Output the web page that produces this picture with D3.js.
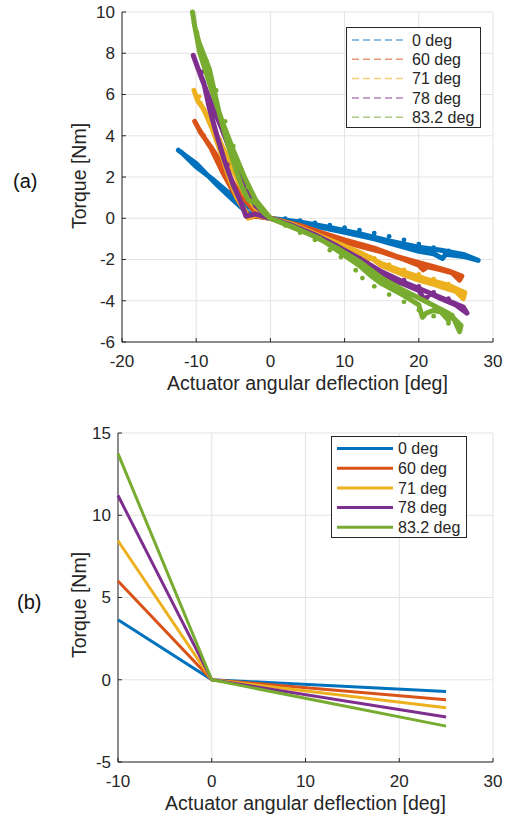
<!DOCTYPE html>
<html>
<head>
<meta charset="utf-8">
<script src="https://cdn.jsdelivr.net/npm/d3@7"></script>
<style>
  body { margin: 0; background: #fff; }
  svg { display: block; font-family: "Liberation Sans", Arial, sans-serif; }
</style>
</head>
<body>
<div id="viz"></div>
<script>
// series names + colors (MATLAB default order)
const seriesNames = ["0 deg", "60 deg", "71 deg", "78 deg", "83.2 deg"];
const colors = ["#0072BD", "#D95319", "#EDB120", "#7E2F8E", "#77AC30"];

const loop0 = [[-12.4,3.3],[-11.3,3.0],[-10,2.65],[-8.5,2.1],[-7,1.55],[-5.5,1.05],[-4,0.55],[-3,0.25],[-1.5,0.08],[0,0],[3,-0.15],[6,-0.38],[10,-0.68],[14,-1.0],[17,-1.3],[20,-1.6],[22,-1.72],[23.2,-1.95],[23.6,-1.75],[26,-1.85],[28,-2.04],[26,-1.75],[23,-1.55],[20,-1.4],[16,-1.1],[12,-0.75],[8,-0.45],[4,-0.18],[0,0],[-2,0.35],[-4,0.8],[-6,1.35],[-8,1.95],[-10,2.5],[-12,3.2]];
const loop60 = [[-10.2,4.7],[-9.6,4.3],[-8,3.4],[-6.4,2.2],[-5,1.3],[-4.2,0.8],[-3.4,0.35],[-2.8,0.05],[-2,0.1],[0,0],[4,-0.35],[7,-0.72],[10,-1.15],[13,-1.45],[15,-1.63],[18,-2.0],[20,-2.28],[20.6,-2.5],[21.2,-2.35],[23,-2.5],[24.5,-2.65],[25.5,-3.0],[25.8,-2.8],[24,-2.55],[22,-2.35],[20,-2.15],[17,-1.85],[14,-1.45],[10,-1.05],[6,-0.6],[3,-0.28],[0,0],[-2,0.3],[-3.5,0.9],[-5,1.7],[-6.5,2.6],[-8,3.45],[-9.5,4.2]];
const loop71 = [[-10.3,6.2],[-9.8,5.7],[-9,5.3],[-7.8,4.3],[-6.5,3.0],[-5.5,1.9],[-4.5,1.0],[-3.5,0.4],[-3,0.0],[-2,0.15],[0,0],[4,-0.45],[7,-0.95],[10,-1.46],[12,-1.8],[13,-2.04],[13.5,-1.9],[15,-2.3],[18,-2.75],[20,-3.0],[22,-3.2],[23,-3.33],[25,-3.55],[26,-3.9],[26.2,-3.6],[24,-3.25],[21,-2.95],[18,-2.6],[15,-2.2],[12,-1.65],[9,-1.2],[6,-0.75],[3,-0.3],[0,0],[-2,0.5],[-3.5,1.2],[-5,2.3],[-6.5,3.5],[-8,4.6],[-9.5,5.6]];
const loop78 = [[-10.4,7.9],[-9.8,7.3],[-9,6.6],[-8.2,5.3],[-7.2,4.0],[-6.2,2.8],[-5,1.6],[-4,0.8],[-3.3,0.1],[-2,0.2],[0,0],[4,-0.5],[7,-1.05],[10,-1.6],[12,-2.1],[13,-2.52],[13.6,-2.35],[15,-2.8],[18,-3.2],[20,-3.5],[20.8,-3.98],[21.5,-3.65],[23,-3.9],[25,-4.2],[26.5,-4.6],[26,-4.3],[24,-4.0],[21,-3.55],[18,-3.1],[15,-2.6],[12,-1.95],[9,-1.35],[6,-0.8],[3,-0.35],[0,0],[-2,0.6],[-3.5,1.6],[-5,2.9],[-6.5,4.3],[-8,5.6],[-9.5,7.0]];
const loop83 = [[-10.5,10],[-10.2,9.3],[-9.6,8.5],[-8.2,7.2],[-6.9,5.1],[-5.5,3.3],[-4.5,2.2],[-3.8,1.5],[-3,0.9],[-1.9,0.72],[-1,0.3],[0,0],[3,-0.45],[6.6,-0.97],[10,-1.8],[12,-2.3],[13.5,-2.77],[15,-3.17],[18,-3.75],[20,-4.2],[20.5,-4.8],[21,-4.6],[22,-4.47],[23,-4.55],[24,-4.95],[24.5,-4.7],[25.5,-5.5],[25.7,-5.2],[24,-4.6],[21,-4.05],[18,-3.5],[15,-2.9],[12,-2.1],[9,-1.45],[6,-0.9],[3,-0.4],[0,0],[-2,0.9],[-3.5,2.0],[-5,3.3],[-6.5,4.7],[-8,6.3],[-9.5,8.0],[-10.3,9.5]];

// (a) dotted traces next to the loops
const dots0 = [[2,-0.02],[4,-0.12],[6,-0.22],[8,-0.33],[10,-0.45],[12,-0.58],[14,-0.72],[16,-0.88],[18,-1.05],[20,-1.25],[22,-1.42],[24,-1.58],[26,-1.78]];
const dots60 = [[-9,4.0],[-7.5,3.1],[-6,2.1],[-4.5,1.1]];
const dots71 = [[-9.6,5.9],[-8.5,5.0],[-6.8,3.8],[-5.8,2.6],[12,-1.65],[14,-1.95],[16,-2.25],[18,-2.5],[20,-2.72],[22,-2.95],[24,-3.2]];
const dots78 = [[-9.2,7.1],[-7.6,5.0],[-5.8,2.6],[12,-1.95],[14,-2.4],[16,-2.8],[18,-3.0],[20,-3.3],[22,-3.6],[24,-3.9]];
const dots83 = [[-9.9,9.0],[-8.6,7.6],[-7.3,6.2],[-6.1,4.7],[-5.0,3.5],[-4.0,2.4],[-3.0,1.5],[2,-0.35],[4,-0.7],[6,-1.05],[8,-1.55],[9.5,-1.88],[11.5,-2.52],[12.4,-2.9],[14,-3.3],[16,-3.7],[18,-4.05],[20,-4.45],[22,-4.75],[24,-5.1]];

const loops = [loop0, loop60, loop71, loop78, loop83];
const dotSets = [dots0, dots60, dots71, dots78, dots83];

// (b) piecewise-linear fits
const fitX = [-10, 0, 25];
const fit0 = [3.65, 0, -0.71];
const fit60 = [6.0, 0, -1.22];
const fit71 = [8.45, 0, -1.7];
const fit78 = [11.2, 0, -2.27];
const fit83 = [13.75, 0, -2.82];
const fits = [fit0, fit60, fit71, fit78, fit83];

// tick values
const ticksAX = [-20, -10, 0, 10, 20, 30];
const ticksAY = [-6, -4, -2, 0, 2, 4, 6, 8, 10];
const ticksBX = [-10, 0, 10, 20, 30];
const ticksBY = [-5, 0, 5, 10, 15];

const W = 510, H = 820;
const axisColor = "#262626", gridColor = "#e3e3e3";
const tickSize = 17, titleSize = 19.5, legendSize = 16;

const svg = d3.select("#viz").append("svg")
  .attr("width", W).attr("height", H);

function drawAxes(x, y, xt, yt, yLabelCenter) {
  const [x0, x1] = x.range();
  const [y0, y1] = y.range(); // y0 bottom, y1 top
  const g = svg.append("g");

  // grid
  g.selectAll(".gx").data(xt).join("line")
    .attr("x1", d => x(d)).attr("x2", d => x(d))
    .attr("y1", y0).attr("y2", y1)
    .attr("stroke", gridColor).attr("stroke-width", 1);
  g.selectAll(".gy").data(yt).join("line")
    .attr("x1", x0).attr("x2", x1)
    .attr("y1", d => y(d)).attr("y2", d => y(d))
    .attr("stroke", gridColor).attr("stroke-width", 1);

  // axis lines
  g.append("line").attr("x1", x0).attr("x2", x1).attr("y1", y0).attr("y2", y0)
    .attr("stroke", axisColor);
  g.append("line").attr("x1", x0).attr("x2", x0).attr("y1", y0).attr("y2", y1)
    .attr("stroke", axisColor);

  // ticks inward
  g.selectAll(".tx").data(xt).join("line")
    .attr("x1", d => x(d)).attr("x2", d => x(d))
    .attr("y1", y0).attr("y2", y0 - 4)
    .attr("stroke", axisColor);
  g.selectAll(".ty").data(yt).join("line")
    .attr("x1", x0).attr("x2", x0 + 4)
    .attr("y1", d => y(d)).attr("y2", d => y(d))
    .attr("stroke", axisColor);

  // tick labels
  g.selectAll(".lx").data(xt).join("text")
    .attr("x", d => x(d)).attr("y", y0 + 25)
    .attr("text-anchor", "middle")
    .attr("font-size", tickSize).attr("fill", axisColor)
    .text(d => d);
  g.selectAll(".ly").data(yt).join("text")
    .attr("x", x0 - 7).attr("y", d => y(d))
    .attr("dy", "0.35em")
    .attr("text-anchor", "end")
    .attr("font-size", tickSize).attr("fill", axisColor)
    .text(d => d);

  // axis titles
  g.append("text")
    .attr("x", (x0 + x1) / 2).attr("y", y0 + 48)
    .attr("text-anchor", "middle")
    .attr("font-size", titleSize).attr("fill", axisColor)
    .text("Actuator angular deflection [deg]");
  g.append("text")
    .attr("transform", "translate(86," + yLabelCenter + ") rotate(-90)")
    .attr("text-anchor", "middle")
    .attr("font-size", titleSize).attr("fill", axisColor)
    .text("Torque [Nm]");
}

// ---------- (a) ----------
const xA = d3.scaleLinear().domain([-20, 30]).range([122, 493]);
const yA = d3.scaleLinear().domain([-6, 10]).range([342, 12]);
drawAxes(xA, yA, ticksAX, ticksAY, 176);

const lineA = d3.line().x(d => xA(d[0])).y(d => yA(d[1]));
const gA = svg.append("g");
loops.forEach((pts, i) => {
  gA.append("path")
    .attr("d", lineA(pts))
    .attr("fill", "none")
    .attr("stroke", colors[i])
    .attr("stroke-width", 5)
    .attr("stroke-linejoin", "round")
    .attr("stroke-linecap", "round");
  gA.selectAll(null).data(dotSets[i]).join("circle")
    .attr("cx", d => xA(d[0])).attr("cy", d => yA(d[1]))
    .attr("r", 2.4)
    .attr("fill", colors[i]);
});

// legend (a)
const legA = svg.append("g");
legA.append("rect").attr("x", 346.5).attr("y", 27.5).attr("width", 134).attr("height", 100)
  .attr("fill", "#fff").attr("stroke", axisColor).attr("stroke-width", 1);
seriesNames.forEach((name, i) => {
  const yy = 40 + i * 19.3;
  legA.append("line").attr("x1", 352).attr("x2", 407).attr("y1", yy).attr("y2", yy)
    .attr("stroke", colors[i]).attr("stroke-opacity", 0.6)
    .attr("stroke-width", 1.5).attr("stroke-dasharray", "7,4");
  legA.append("text").attr("x", 412).attr("y", yy).attr("dy", "0.35em")
    .attr("font-size", legendSize).attr("fill", axisColor).text(name);
});

// ---------- (b) ----------
const xB = d3.scaleLinear().domain([-10, 30]).range([118, 493]);
const yB = d3.scaleLinear().domain([-5, 15]).range([762, 433]);
drawAxes(xB, yB, ticksBX, ticksBY, 605);

const lineB = d3.line().x(d => xB(d[0])).y(d => yB(d[1]));
fits.forEach((vals, i) => {
  svg.append("path")
    .attr("d", lineB(fitX.map((xv, k) => [xv, vals[k]])))
    .attr("fill", "none")
    .attr("stroke", colors[i])
    .attr("stroke-width", 3);
});

// legend (b)
const legB = svg.append("g");
legB.append("rect").attr("x", 331.5).attr("y", 436.5).attr("width", 135).attr("height", 101)
  .attr("fill", "#fff").attr("stroke", axisColor).attr("stroke-width", 1);
seriesNames.forEach((name, i) => {
  const yy = 448.5 + i * 19.7;
  legB.append("line").attr("x1", 337).attr("x2", 393).attr("y1", yy).attr("y2", yy)
    .attr("stroke", colors[i]).attr("stroke-width", 3);
  legB.append("text").attr("x", 398).attr("y", yy).attr("dy", "0.35em")
    .attr("font-size", legendSize).attr("fill", axisColor).text(name);
});

// panel labels
svg.append("text").attr("x", 13).attr("y", 188).attr("font-size", 20).attr("fill", "#111").text("(a)");
svg.append("text").attr("x", 17).attr("y", 609).attr("font-size", 20).attr("fill", "#111").text("(b)");
</script>
</body>
</html>
